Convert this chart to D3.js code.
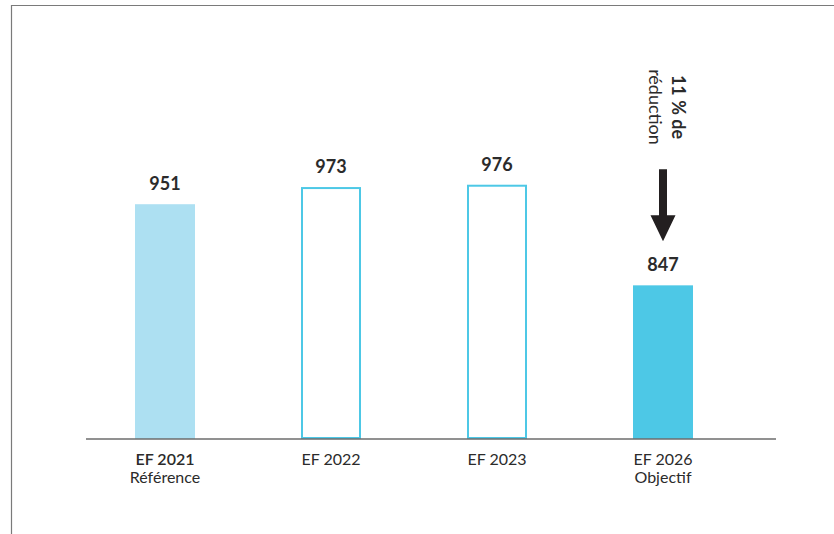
<!DOCTYPE html>
<html>
<head>
<meta charset="utf-8">
<script src="https://cdn.jsdelivr.net/npm/d3@7"></script>
<style>
  body { margin: 0; background: #fff; }
  text { font-family: Lato, "Open Sans", sans-serif; fill: #2b2b2b; }
</style>
</head>
<body>
<div id="chart"></div>
<script>
const categories = ["EF 2021", "EF 2022", "EF 2023", "EF 2026"];
const subLabels = ["Référence", "", "", "Objectif"];
const values = [951, 973, 976, 847];
const barStyles = ["light", "outline", "outline", "solid"];
const noteLines = ["11 % de", "réduction"];

const width = 834, height = 534;
const baseY = 439;
const barW = 60;

const svg = d3.select("#chart")
    .append("svg")
    .attr("width", width)
    .attr("height", height);

// frame (top and left edges)
svg.append("path")
    .attr("d", `M11.5,${height} V5.5 H${width}`)
    .attr("fill", "none")
    .attr("stroke", "#7a7a7a")
    .attr("stroke-width", 1.2);

const x = d3.scalePoint()
    .domain(categories)
    .range([165, 663]);

// the bars are not drawn from zero in the original
const y = d3.scaleLinear()
    .domain([650, 1000])
    .range([baseY, baseY - 273]);

const data = categories.map((c, i) => ({ cat: c, sub: subLabels[i], value: values[i], style: barStyles[i] }));

const bars = svg.selectAll(".bar")
    .data(data)
    .enter()
    .append("g")
    .attr("class", "bar");

bars.append("rect")
    .attr("x", d => d.style === "outline" ? x(d.cat) - barW / 2 + 1 : x(d.cat) - barW / 2)
    .attr("y", d => d.style === "outline" ? y(d.value) + 1 : y(d.value))
    .attr("width", d => d.style === "outline" ? barW - 2 : barW)
    .attr("height", d => d.style === "outline" ? baseY - y(d.value) - 2 : baseY - y(d.value))
    .attr("fill", d => d.style === "light" ? "#ade0f2" : d.style === "solid" ? "#4dc8e6" : "none")
    .attr("stroke", d => d.style === "outline" ? "#4dc8e6" : "none")
    .attr("stroke-width", 2);

bars.append("text")
    .attr("x", d => x(d.cat))
    .attr("y", d => y(d.value) - 14)
    .attr("text-anchor", "middle")
    .style("font-size", "18px")
    .style("font-weight", "bold")
    .text(d => d.value);

// baseline
svg.append("line")
    .attr("x1", 86).attr("x2", 776)
    .attr("y1", baseY).attr("y2", baseY)
    .attr("stroke", "#6d6d6d")
    .attr("stroke-width", 1.5);

const labels = svg.selectAll(".cat")
    .data(data)
    .enter()
    .append("text")
    .attr("class", "cat")
    .attr("text-anchor", "middle")
    .style("font-size", "16px");

labels.append("tspan")
    .attr("x", d => x(d.cat))
    .attr("y", baseY + 26)
    .style("font-weight", (d, i) => i === 0 ? 600 : 400)
    .text(d => d.cat);

labels.append("tspan")
    .attr("x", d => x(d.cat))
    .attr("y", baseY + 44)
    .text(d => d.sub);

// reduction note with arrow above the target bar
const last = data[data.length - 1];
const ax = x(last.cat);
const arrowTip = y(last.value) - 44;

svg.append("path")
    .attr("d", `M${ax - 4},${arrowTip - 72} H${ax + 4} V${arrowTip - 26} H${ax + 12.5} L${ax},${arrowTip} L${ax - 12.5},${arrowTip - 26} H${ax - 4} Z`)
    .attr("fill", "#231f20");

const note = svg.append("text")
    .attr("transform", `translate(${ax + 3}, 107) rotate(90)`)
    .attr("text-anchor", "middle")
    .style("font-size", "18px");

note.selectAll("tspan")
    .data(noteLines)
    .enter()
    .append("tspan")
    .attr("x", 0)
    .attr("y", (d, i) => i === 0 ? -5.5 : 17.5)
    .style("font-weight", (d, i) => i === 0 ? "bold" : "normal")
    .text(d => d);
</script>
</body>
</html>
